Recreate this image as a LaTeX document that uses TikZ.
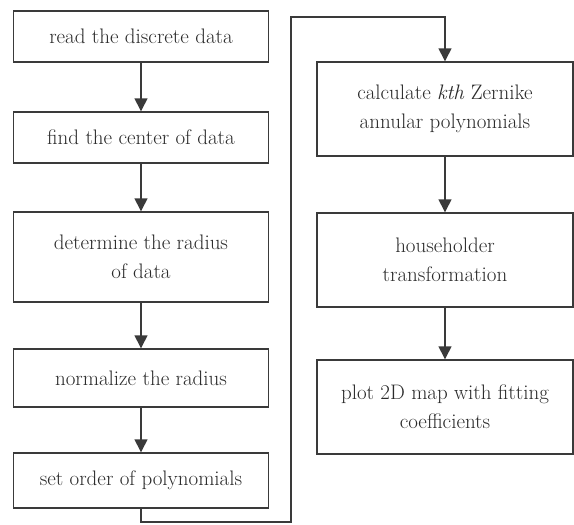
\documentclass[tikz,border=0pt]{standalone}
\usetikzlibrary{arrows.meta}
\definecolor{ink}{HTML}{3A3A3A}
\definecolor{txt}{HTML}{2A2A2A}
\begin{document}
\begin{tikzpicture}[x=1pt,y=-1pt,
  stepbox/.style={draw=ink, line width=1.4pt, rectangle, inner sep=2pt,
    text=txt, align=center, font=\fontsize{21}{29}\selectfont},
  lbox/.style={stepbox, minimum width=255pt},
  rbox/.style={stepbox, minimum width=256pt, minimum height=94pt},
  flow/.style={draw=ink, line width=1.4pt, -{Triangle[width=13pt,length=13pt]}}]
\useasboundingbox (0,0) rectangle (574,525);
\node[lbox, minimum height=51pt] (b1) at (141,36.5) {read the discrete data};
\node[lbox, minimum height=51pt] (b2) at (141,137.5) {find the center of data};
\node[lbox, minimum height=90pt] (b3) at (141,257) {determine the radius\\of data};
\node[lbox, minimum height=58pt] (b4) at (141,378) {normalize the radius};
\node[lbox, minimum height=55pt] (b5) at (141,480.5) {set order of polynomials};
\node[rbox] (r1) at (445,109) {calculate \textit{kth} Zernike\\annular polynomials};
\node[rbox] (r2) at (445,260) {householder\\transformation};
\node[rbox] (r3) at (445,407) {plot 2D map with fitting\\coefficients};
\coordinate (c1) at (141,522);
\coordinate (c2) at (291,522);
\coordinate (c3) at (291,17);
\coordinate (c4) at (445,17);
\draw[flow] (b1) -- (b2);
\draw[flow] (b2) -- (b3);
\draw[flow] (b3) -- (b4);
\draw[flow] (b4) -- (b5);
\draw[flow] (b5.south) -- (c1) -- (c2) -- (c3) -- (c4) -- (r1.north);
\draw[flow] (r1) -- (r2);
\draw[flow] (r2) -- (r3);
\end{tikzpicture}
\end{document}
